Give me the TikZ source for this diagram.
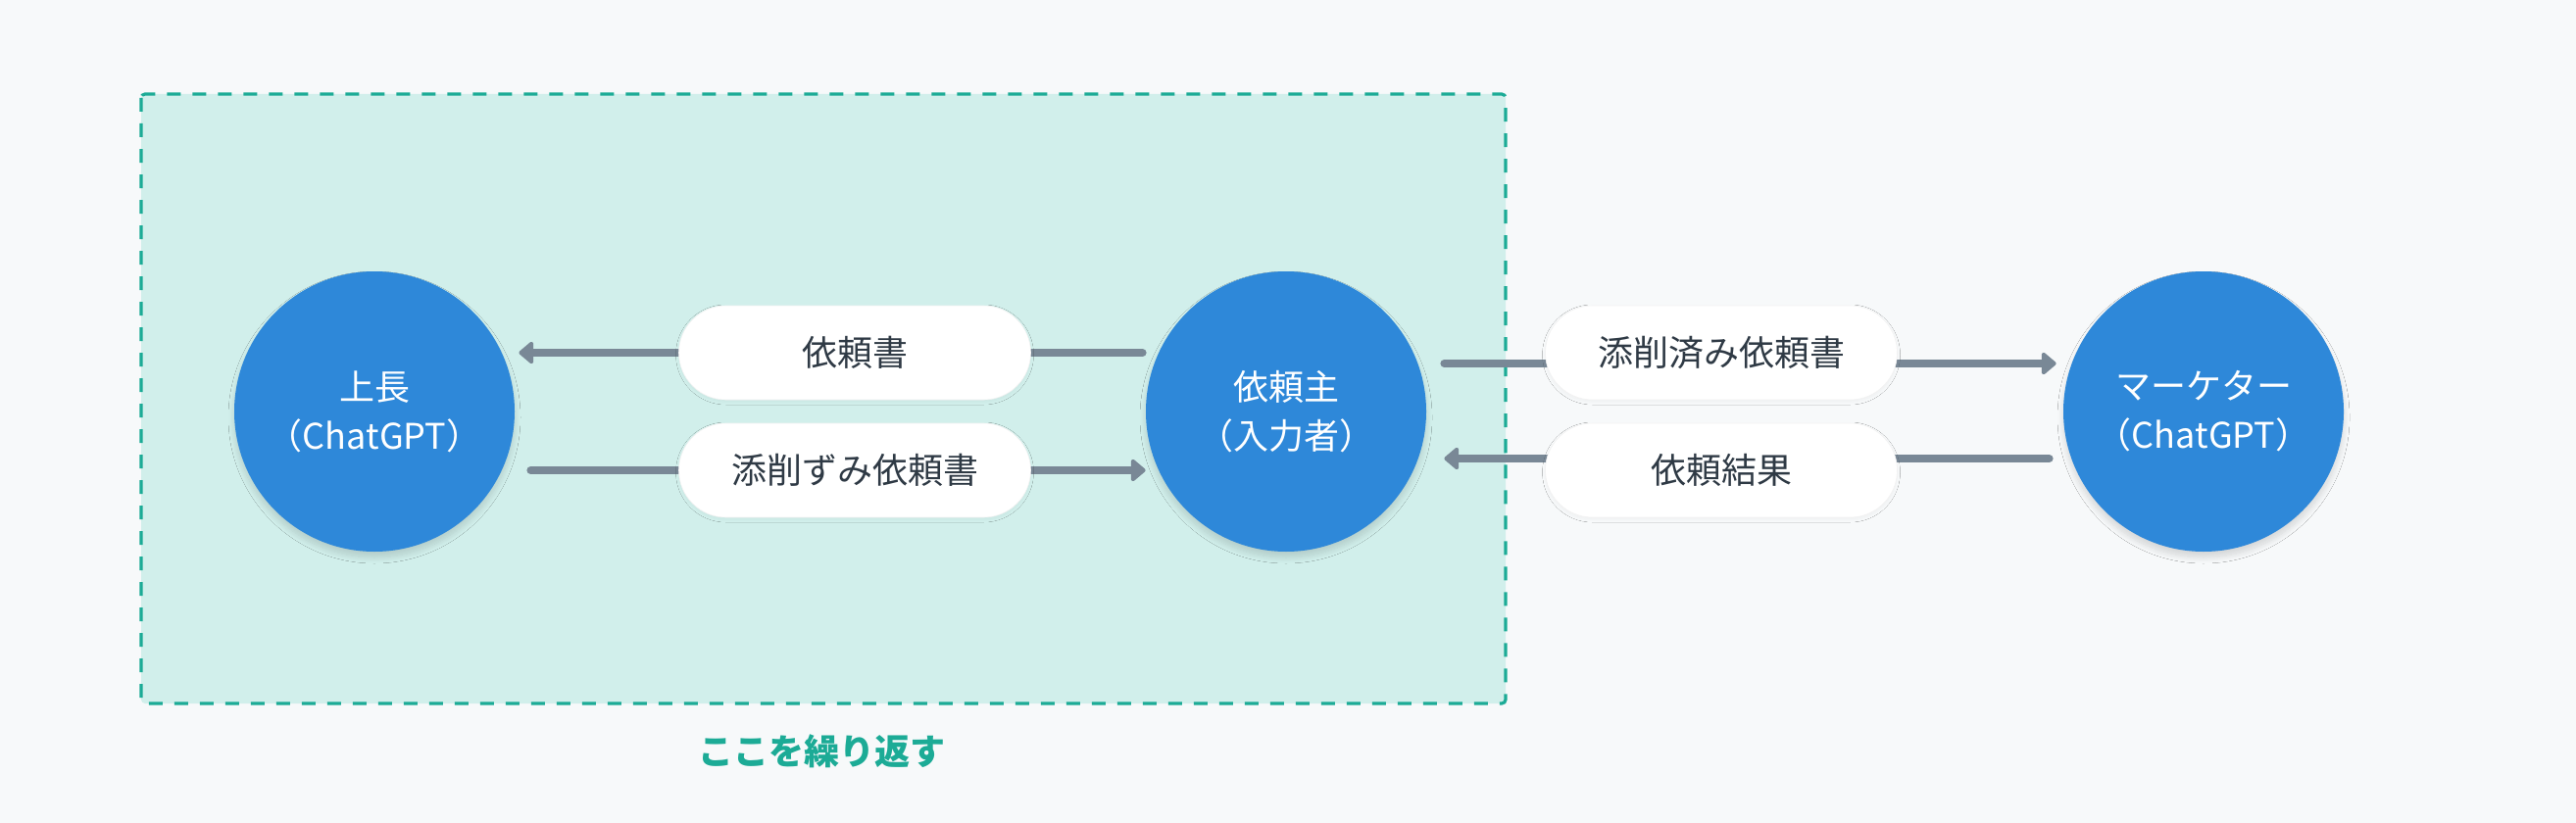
\documentclass[tikz,border=0pt]{standalone}
\usepackage{fontspec}
\setmainfont{Noto Sans CJK JP}
\usetikzlibrary{arrows.meta,shadows.blur}
\definecolor{bgcol}{HTML}{F7F9FA}
\definecolor{loopfill}{HTML}{D1EFEB}
\definecolor{loopline}{HTML}{1CAB96}
\definecolor{agentcol}{HTML}{2E88D9}
\definecolor{flowcol}{HTML}{798896}
\definecolor{textcol}{HTML}{2F3A45}
\begin{document}
\begin{tikzpicture}[x=0.5pt,y=-0.5pt,
    agent/.style={circle,fill=agentcol,text=white,minimum size=143pt,inner sep=0pt,
        align=center,font=\fontsize{18pt}{25pt}\selectfont,
        blur shadow={shadow xshift=0pt,shadow yshift=-3pt,shadow blur radius=3pt,
            shadow blur steps=10,shadow opacity=14}},
    msg/.style={rectangle,rounded corners=24pt,fill=white,draw=black!5,line width=0.3pt,
        minimum width=179.5pt,minimum height=48pt,text=textcol,font=\fontsize{18pt}{22pt}\selectfont,
        blur shadow={shadow xshift=0pt,shadow yshift=-1pt,shadow blur radius=1.5pt,
            shadow blur steps=6,shadow opacity=4}},
    flow/.style={draw=flowcol,line width=4pt,line cap=round,
        -{Triangle[length=8pt,width=13pt,round]}}]
    % background and the repeated part
    \useasboundingbox[fill=bgcol] (0,0) rectangle (2628,840);
    \draw[fill=loopfill,draw=loopline,line width=1.6pt,dash pattern=on 7pt off 6pt,rounded corners=2pt]
        (144,96) rectangle (1536,718);
    \node[text=loopline,font=\fontsize{18pt}{22pt}\selectfont\bfseries] (repeat) at (838,767) {ここを繰り返す};

    \node[agent] (boss) at (382,420)  {上長\\（ChatGPT）};
    \node[agent] (req)  at (1312,420) {依頼主\\（入力者）};
    \node[agent] (mkt)  at (2248,420) {マーケター\\（ChatGPT）};

    \draw[flow] ([shift={(-1.5pt,30pt)}]req.west) -- ([shift={(2pt,30pt)}]boss.east);
    \draw[flow] ([shift={(8pt,-30pt)}]boss.east) -- ([shift={(0pt,-30pt)}]req.west);
    \draw[flow] ([shift={(9pt,24.5pt)}]req.east) -- ([shift={(-3.5pt,24.5pt)}]mkt.west);
    \draw[flow] ([shift={(-7pt,-24pt)}]mkt.west) -- ([shift={(9pt,-24pt)}]req.east);

    \node[msg] (order)  at (872,360)  {依頼書};
    \node[msg] (edited) at (872,480)  {添削ずみ依頼書};
    \node[msg] (final)  at (1756,360) {添削済み依頼書};
    \node[msg] (result) at (1756,480) {依頼結果};
\end{tikzpicture}
\end{document}
